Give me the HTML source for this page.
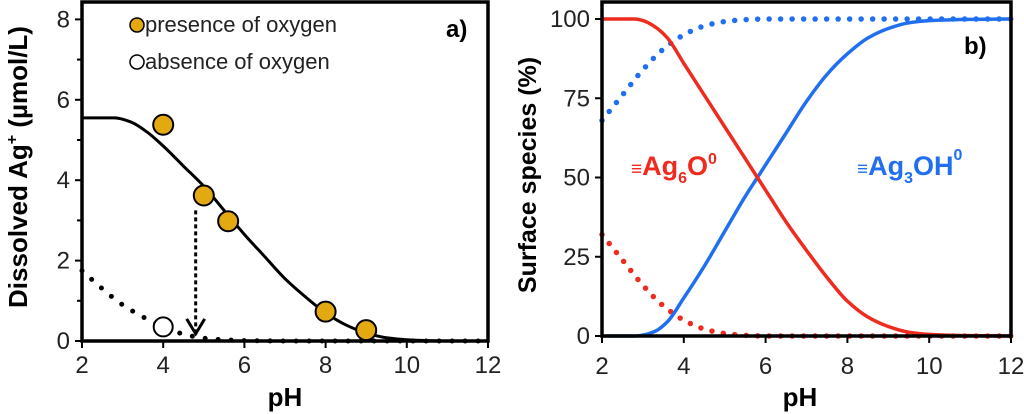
<!DOCTYPE html>
<html><head><meta charset="utf-8"><style>
html,body{margin:0;padding:0;background:#fff;}
svg{display:block;font-family:"Liberation Sans",Arial,sans-serif;}
</style></head><body>
<svg id="c" width="1024" height="414" viewBox="0 0 1024 414"></svg>
<script>
// Panel a data
const phTicks=[2,4,6,8,10,12];
const aYTicks=[0,2,4,6,8];
const aFitX=[2,2.8,3.2,3.6,4,4.5,5,5.5,6,6.5,7,7.5,8,8.5,9,9.5,10,10.5,11,12];
const aFitY=[5.55,5.55,5.45,5.2,4.85,4.35,3.85,3.25,2.65,2.1,1.55,1.1,0.7,0.4,0.2,0.08,0.03,0.01,0,0];
const aDotX=[2,2.5,3,3.5,4,4.5,5,5.5,6,7,8,9,10,11,12];
const aDotY=[1.75,1.3,0.9,0.6,0.35,0.17,0.07,0.03,0.01,0,0,0,0,0,0];
const presX=[4,5,5.6,8,9];
const presY=[5.38,3.62,2.98,0.73,0.27];
const absX=[4];
const absY=[0.35];
// Panel b data
const bX=[2,2.5,2.8,3,3.3,3.6,4,4.5,5,5.5,5.8,6,6.5,7,7.5,8,8.5,9,9.5,10,11,12];
const redSolid=[100,100,100,99.5,97.5,94,86,76,66,56,50,46,36,27,18.5,11,6,3,1.2,0.5,0.1,0];
const blueSolid=[0,0,0,0.3,1.5,4.5,12,22,33,44,50,54,64,74,82.5,89,94,97,98.8,99.5,99.9,100];
const bYTicks=[0,25,50,75,100];
const bDX=[2,2.5,3,3.5,4,4.5,5,5.5,6,7,8,9,10,11,12];
const redDot=[32,24,16,9.5,5,2.2,0.8,0.2,0,0,0,0,0,0,0];
const blueDot=[68,76,84,90.5,95,97.8,99.2,99.8,100,100,100,100,100,100,100];

const NS="http://www.w3.org/2000/svg";
const svg=document.getElementById('c');
function el(t,a,p){const e=document.createElementNS(NS,t);for(const k in a)e.setAttribute(k,a[k]);(p||svg).appendChild(e);return e;}
// monotone cubic interpolation path
function path(xs,ys,sx,sy){const n=xs.length,X=xs.map(sx),Y=ys.map(sy);
 const d=[],m=new Array(n);for(let i=0;i<n-1;i++)d.push((Y[i+1]-Y[i])/(X[i+1]-X[i]));
 m[0]=d[0];m[n-1]=d[n-2];
 for(let i=1;i<n-1;i++){if(d[i-1]*d[i]<=0)m[i]=0;else{const h0=X[i]-X[i-1],h1=X[i+1]-X[i];const w1=2*h1+h0,w2=h1+2*h0;m[i]=(w1+w2)/(w1/d[i-1]+w2/d[i]);}}
 let s='M'+X[0]+','+Y[0];
 for(let i=0;i<n-1;i++){const h=(X[i+1]-X[i])/3;s+=` C${X[i]+h},${Y[i]+m[i]*h} ${X[i+1]-h},${Y[i+1]-m[i+1]*h} ${X[i+1]},${Y[i+1]}`;}
 return s;}

// ---- Panel a
const ax=x=>82+(x-2)*40.6, ay=y=>341-y*40.2;
let g=el('g',{});


let e=el('path',{d:path(aDotX,aDotY,ax,ay),fill:'none',stroke:'#000','stroke-width':5,'stroke-linecap':'round','stroke-dasharray':'0 13'},g);

e=el('path',{d:path(aFitX,aFitY,ax,ay),fill:'none',stroke:'#000','stroke-width':3},g);

e=el('line',{x1:ax(4.8),y1:ay(3.25),x2:ax(4.8),y2:ay(0.25),stroke:'#000','stroke-width':3,'stroke-dasharray':'4 3'},g);

e=el('path',{d:`M${ax(4.8)-9},${ay(0.55)} L${ax(4.8)},${ay(0.18)} L${ax(4.8)+9},${ay(0.55)}`,fill:'none',stroke:'#000','stroke-width':3},g);

presX.forEach((x,i)=>{const c=el('circle',{cx:ax(x),cy:ay(presY[i]),r:10,fill:'#e3a910',stroke:'#000','stroke-width':2},g);
});
absX.forEach((x,i)=>{const c=el('circle',{cx:ax(x),cy:ay(absY[i]),r:9.5,fill:'#fff',stroke:'#000','stroke-width':2},g);
});
e=el('rect',{x:82,y:2,width:406,height:339,fill:'none',stroke:'#000','stroke-width':3.5},g);

phTicks.forEach(t=>{el('line',{x1:ax(t),y1:341,x2:ax(t),y2:348,stroke:'#000','stroke-width':2},g);
 const tx=el('text',{x:ax(t),y:373,'font-size':24,'text-anchor':'middle',fill:'#222'},g);tx.textContent=t;
 });
aYTicks.forEach(t=>{el('line',{x1:75,y1:ay(t),x2:82,y2:ay(t),stroke:'#000','stroke-width':2},g);
 if(t<8)el('line',{x1:77,y1:ay(t+1),x2:82,y2:ay(t+1),stroke:'#000','stroke-width':2},g);
 const tx=el('text',{x:70,y:ay(t)+8,'font-size':24,'text-anchor':'end',fill:'#222'},g);tx.textContent=t;
 });
e=el('text',{x:285,y:406,'font-size':26,'font-weight':'bold','text-anchor':'middle'},g);e.textContent='pH';

e=el('text',{x:0,y:0,'font-size':26,'font-weight':'bold','text-anchor':'middle',transform:'translate(27,167) rotate(-90)'},g);
e.innerHTML='Dissolved Ag<tspan dy="-10" font-size="16">+</tspan><tspan dy="10"> (µmol/L)</tspan>';

e=el('circle',{cx:137,cy:25,r:7,fill:'#e3a910',stroke:'#000','stroke-width':1.5},g);

e=el('text',{x:145,y:32,'font-size':22,fill:'#222'},g);e.textContent='presence of oxygen';

e=el('circle',{cx:137,cy:62,r:7,fill:'#fff',stroke:'#000','stroke-width':1.5},g);

e=el('text',{x:145,y:69,'font-size':22,fill:'#222'},g);e.textContent='absence of oxygen';

e=el('text',{x:446,y:37,'font-size':24,'font-weight':'bold'},g);e.textContent='a)';


// ---- Panel b
const bx=x=>602+(x-2)*40.9, by=y=>336-y*3.17;
g=el('g',{});


e=el('path',{d:path(bDX,redDot,bx,by),fill:'none',stroke:'#ee2b1e','stroke-width':5.5,'stroke-linecap':'round','stroke-dasharray':'0 11.5'},g);

e=el('path',{d:path(bDX,blueDot,bx,by),fill:'none',stroke:'#1f6ff0','stroke-width':5.5,'stroke-linecap':'round','stroke-dasharray':'0 11.5'},g);

e=el('path',{d:path(bX,blueSolid,bx,by),fill:'none',stroke:'#1f6ff0','stroke-width':3.5},g);

e=el('path',{d:path(bX,redSolid,bx,by),fill:'none',stroke:'#ee2b1e','stroke-width':3.5},g);

e=el('rect',{x:602,y:2,width:409,height:334,fill:'none',stroke:'#000','stroke-width':3.5},g);

phTicks.forEach(t=>{el('line',{x1:bx(t),y1:336,x2:bx(t),y2:343,stroke:'#000','stroke-width':2},g);
 const tx=el('text',{x:bx(t),y:374,'font-size':24,'text-anchor':'middle',fill:'#222'},g);tx.textContent=t;
 });
bYTicks.forEach(t=>{el('line',{x1:595,y1:by(t),x2:602,y2:by(t),stroke:'#000','stroke-width':2},g);
 const tx=el('text',{x:590,y:by(t)+8,'font-size':24,'text-anchor':'end',fill:'#222'},g);tx.textContent=t;
 });
e=el('text',{x:800,y:406,'font-size':26,'font-weight':'bold','text-anchor':'middle'},g);e.textContent='pH';

e=el('text',{x:0,y:0,'font-size':25,'font-weight':'bold','text-anchor':'middle',transform:'translate(536,175) rotate(-90)'},g);
e.textContent='Surface species (%)';

e=el('text',{x:964,y:54,'font-size':24,'font-weight':'bold'},g);e.textContent='b)';

e=el('text',{x:631,y:175,'font-size':27,'font-weight':'bold',fill:'#ee2b1e'},g);
e.innerHTML='<tspan font-size="19">≡</tspan>Ag<tspan dy="8" font-size="16">6</tspan><tspan dy="-8">O</tspan><tspan dy="-11" font-size="16">0</tspan>';

e=el('text',{x:857,y:175,'font-size':27,'font-weight':'bold',fill:'#1f6ff0'},g);
e.innerHTML='<tspan font-size="19">≡</tspan>Ag<tspan dy="8" font-size="16">3</tspan><tspan dy="-8">OH</tspan><tspan dy="-15" font-size="16">0</tspan>';

</script>
</body></html>
